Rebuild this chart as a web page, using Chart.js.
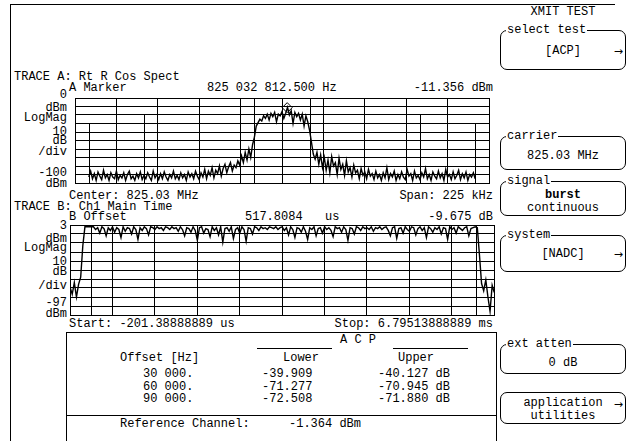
<!DOCTYPE html>
<html>
<head>
<meta charset="utf-8">
<script src="https://cdn.jsdelivr.net/npm/chart.js@4.4.1/dist/chart.umd.min.js"></script>
<style>
html, body { margin: 0; padding: 0; background: #fff; }
body { width: 636px; height: 441px; position: relative; overflow: hidden;
       font-family: "Liberation Mono", "DejaVu Sans Mono", monospace; font-size: 12px; color: #000; }
.t { position: absolute; white-space: pre; line-height: 12px; }
.hl { position: absolute; height: 0; border-top: 1px solid #000; }
.vl { position: absolute; width: 0; border-left: 1px solid #000; }
canvas { position: absolute; }
.key { position: absolute; left: 500px; width: 126px; border: 1px solid #000; border-radius: 7px; box-sizing: border-box; }
.key .lab { position: absolute; left: 5px; top: -7px; background: #fff; padding: 0 1px; line-height: 12px; white-space: pre; }
.key .c { position: absolute; left: 0; right: 0; text-align: center; line-height: 12px; white-space: pre; }
.key .ar { position: absolute; right: 2px; line-height: 12px; font-family: "DejaVu Sans", sans-serif; font-size: 11px; }
</style>
</head>
<body>
<!-- screen frame -->
<div class="vl" style="left:10px;top:4px;height:440px"></div>
<div class="hl" style="left:10px;top:4px;width:605px"></div>

<!-- trace A header -->
<div class="t" style="left:14px;top:71px">TRACE A: Rt R Cos Spect</div>
<div class="t" style="left:69px;top:82px">A Marker</div>
<div class="t" style="left:207px;top:82px">825 032 812.500 Hz</div>
<div class="t" style="right:143px;top:82px">-11.356 dBm</div>
<div class="t" style="right:569px;top:89px">0</div>
<div class="t" style="right:569px;top:102px">dBm</div>
<div class="t" style="right:569px;top:112px">LogMag</div>
<div class="t" style="right:569px;top:126px">10</div>
<div class="t" style="right:569px;top:135px">dB</div>
<div class="t" style="right:569px;top:146px">/div</div>
<div class="t" style="right:569px;top:167px">-100</div>
<div class="t" style="right:569px;top:178px">dBm</div>
<canvas id="traceA" width="426" height="97" style="left:69px;top:92px"></canvas>
<div class="t" style="left:69px;top:190px">Center: 825.03 MHz</div>
<div class="t" style="right:143px;top:190px">Span: 225 kHz</div>

<!-- trace B header -->
<div class="t" style="left:14px;top:201px">TRACE B: Ch1 Main Time</div>
<div class="t" style="left:69px;top:211px">B Offset</div>
<div class="t" style="left:245px;top:211px">517.8084</div>
<div class="t" style="left:325px;top:211px">us</div>
<div class="t" style="right:143px;top:211px">-9.675 dB</div>
<div class="t" style="right:569px;top:220px">3</div>
<div class="t" style="right:569px;top:233px">dBm</div>
<div class="t" style="right:569px;top:242px">LogMag</div>
<div class="t" style="right:569px;top:256px">10</div>
<div class="t" style="right:569px;top:266px">dB</div>
<div class="t" style="right:569px;top:280px">/div</div>
<div class="t" style="right:569px;top:297px">-97</div>
<div class="t" style="right:569px;top:308px">dBm</div>
<canvas id="traceB" width="426" height="92" style="left:69px;top:224px"></canvas>
<div class="t" style="left:69px;top:318px">Start: -201.38888889 us</div>
<div class="t" style="right:143px;top:318px">Stop: 6.79513888889 ms</div>

<!-- ACP table -->
<div style="position:absolute;left:66px;top:332px;width:429px;height:130px;border:1px solid #000"></div>
<div class="t" style="left:340px;top:334px">A C P</div>
<div class="hl" style="left:257px;top:348px;width:75px"></div>
<div class="hl" style="left:393px;top:348px;width:75px"></div>
<div class="t" style="left:120px;top:352px">Offset [Hz]</div>
<div class="t" style="left:283px;top:352px">Lower</div>
<div class="t" style="left:398px;top:352px">Upper</div>
<div id="acpRows"></div>
<div class="hl" style="left:66px;top:415px;width:430px"></div>
<div class="t" style="left:120px;top:418px">Reference Channel:</div>
<div class="t" style="left:289px;top:418px">-1.364 dBm</div>

<!-- softkeys -->
<div class="t" style="left:500px;width:126px;text-align:center;top:6px">XMIT TEST</div>
<div class="key" style="top:30px;height:40px"><span class="lab">select test</span>
  <div class="c" style="top:14px">[ACP]</div><span class="ar" style="top:15px">→</span></div>
<div class="key" style="top:136px;height:34px"><span class="lab">carrier</span>
  <div class="c" style="top:13px">825.03 MHz</div></div>
<div class="key" style="top:181px;height:35px"><span class="lab">signal</span>
  <div class="c" style="top:7px;font-weight:bold">burst</div>
  <div class="c" style="top:20px">continuous</div></div>
<div class="key" style="top:235px;height:37px"><span class="lab">system</span>
  <div class="c" style="top:12px">[NADC]</div><span class="ar" style="top:13px">→</span></div>
<div class="key" style="top:344px;height:30px"><span class="lab">ext atten</span>
  <div class="c" style="top:12px">0 dB</div></div>
<div class="key" style="top:392px;height:32px">
  <div class="c" style="top:4px">application</div>
  <div class="c" style="top:17px">utilities</div><span class="ar" style="top:6px">→</span></div>

<script>
// ACP results
const acpOffsets = ['30 000.', '60 000.', '90 000.'];
const acpLower = ['-39.909', '-71.277', '-72.508'];
const acpUpper = ['-40.127', '-70.945', '-71.880'];

// trace A: spectrum, dBm, one point per kHz from -105 kHz
const SPEC_START_KHZ = -105;
const SPEC_STEP_KHZ = 1;
const specA = [
  -93,-86,-95,-89,-97,-87,-92,-96,-85,-94,
  -90,-97,-88,-93,-95,-86,-96,-91,-94,-88,
  -97,-90,-86,-95,-92,-97,-89,-94,-87,-96,
  -91,-95,-88,-93,-97,-86,-94,-90,-96,-89,
  -95,-87,-93,-97,-90,-94,-86,-95,-91,-96,
  -88,-94,-90,-97,-87,-93,-89,-95,-86,-92,
  -96,-88,-93,-84,-95,-86,-91,-82,-94,-85,
  -89,-80,-92,-83,-78,-88,-81,-76,-86,-79,
  -82,-74,-79,-68,-76,-64,-73,-60,-70,-55,
  -46,-33,-29,-25,-27,-21,-24,-19,-26,-18,
  -22,-17,-28,-19,-21,-16,-24,-18,-11,-20,
  -15,-30,-17,-22,-18,-26,-19,-33,-21,-28,
  -38,-52,-66,-72,-64,-78,-67,-82,-70,-85,
  -73,-88,-69,-80,-76,-90,-71,-84,-78,-91,
  -74,-87,-82,-93,-79,-88,-85,-95,-83,-91,
  -87,-95,-84,-92,-89,-96,-86,-94,-90,-97,
  -88,-94,-82,-96,-89,-93,-86,-97,-90,-95,
  -87,-93,-96,-84,-92,-89,-97,-86,-94,-91,
  -96,-88,-93,-83,-95,-90,-97,-87,-92,-95,
  -86,-94,-89,-97,-84,-93,-90,-96,-87,-95,
  -91,-85,-96,-89,-94,-87,-97,-90,-93,-88,
  -95
];
const specSpan = [-112.5, 112.5];
const specLevel = [-100, 0];
// channel marker lines: [kHz, top of line in dBm]
const specMarkers = [[-105, -30], [-75, -20], [-15, 0], [15, 0], [75, -20], [105, -30]];
const specMarker = { x: 2.8125, y: -11.356 };

// trace B: burst vs time, dBm, one point per 35 us from -200 us
const TIME_START_US = -200;
const TIME_STEP_US = 35;
const burstB = [
  -66,-74,-61,-77,-63,-55,-20,1,1,1,
  1,1,-2,0,-6,1,-1,-9,0,-3,
  1,-5,0,-2,-11,1,-4,0,-1,-7,
  1,-2,-13,0,-3,1,-1,-8,1,0,
  -2,1,-1,0,-3,1,0,-2,1,-1,
  0,-4,1,-2,-9,0,-1,-5,1,-3,
  -14,0,1,-6,-1,-2,-10,1,-3,0,
  -8,1,-16,-1,0,-4,1,-12,-2,0,
  -6,1,-2,-15,0,-1,-7,1,0,-3,
  1,-1,0,-2,1,0,-1,1,-2,0,
  1,-3,0,-8,1,-2,-11,0,-1,-5,
  1,-4,-13,0,-2,1,-9,-1,0,-6,
  1,-2,0,-3,-10,1,-1,0,-5,1,
  -2,-14,0,-1,-7,1,0,-3,1,-1,
  0,-2,1,-4,0,-1,1,-2,0,1,
  -3,-9,0,1,-12,-1,0,-6,1,-2,
  -4,1,0,-8,-1,1,-3,0,-11,1,
  -1,-5,0,-2,1,-7,0,-1,-13,1,
  -2,0,-6,1,-1,-3,0,1,-9,-1,
  0,1,0,-30,-62,-70,-58,-77,-93,-64,
  -72
];
const timeSpan = [-201.38888889, 6795.13888889];
const timeLevel = [-97, 3];
const burstMarkers = [[140], [6493]];

// fill ACP rows
const rows = document.getElementById('acpRows');
acpOffsets.forEach((o, i) => {
  const top = 368 + i * 12.5;
  rows.insertAdjacentHTML('beforeend',
    `<div class="t" style="left:143px;top:${top}px">${o}</div>` +
    `<div class="t" style="left:262px;top:${top}px">${acpLower[i]}</div>` +
    `<div class="t" style="left:378px;top:${top}px">${acpUpper[i]} dB</div>`);
});

function evenTicks(min, max, n) {
  return function (scale) {
    scale.ticks = Array.from({ length: n + 1 }, (_, i) => ({ value: min + (max - min) * i / n }));
  };
}

const markerLines = {
  id: 'markerLines',
  beforeDatasetsDraw(chart, args, opts) {
    const { ctx, chartArea, scales } = chart;
    ctx.save();
    ctx.strokeStyle = '#000';
    ctx.lineWidth = 1;
    (opts.lines || []).forEach(([x, top]) => {
      const px = Math.round(scales.x.getPixelForValue(x)) + 0.5;
      const py = top === undefined ? chartArea.top : Math.round(scales.y.getPixelForValue(top));
      ctx.beginPath();
      ctx.moveTo(px, py);
      ctx.lineTo(px, chartArea.bottom);
      ctx.stroke();
    });
    ctx.restore();
  }
};

function axis(range) {
  return {
    type: 'linear', min: range[0], max: range[1],
    afterBuildTicks: evenTicks(range[0], range[1], 10),
    ticks: { display: false },
    grid: { color: '#000', lineWidth: 1, drawTicks: false },
    border: { color: '#000', width: 1 }
  };
}

function traceOptions(xr, yr, lines) {
  return {
    responsive: false, animation: false, events: [],
    layout: { padding: 1 },
    plugins: { legend: { display: false }, tooltip: { enabled: false }, markerLines: { lines: lines } },
    scales: { x: axis(xr), y: axis(yr) }
  };
}

const traceLine = { borderColor: '#000', borderWidth: 1.4, pointRadius: 0, tension: 0, fill: false };

new Chart(document.getElementById('traceA'), {
  type: 'line',
  data: {
    datasets: [
      Object.assign({ data: specA.map((v, i) => ({ x: SPEC_START_KHZ + i * SPEC_STEP_KHZ, y: v })) }, traceLine),
      { data: [specMarker], showLine: false, pointStyle: 'rectRot', pointRadius: 5,
        pointBorderColor: '#000', pointBackgroundColor: 'rgba(0,0,0,0)', pointBorderWidth: 1 }
    ]
  },
  options: traceOptions(specSpan, specLevel, specMarkers),
  plugins: [markerLines]
});

new Chart(document.getElementById('traceB'), {
  type: 'line',
  data: {
    datasets: [
      Object.assign({ data: burstB.map((v, i) => ({ x: TIME_START_US + i * TIME_STEP_US, y: v })) }, traceLine)
    ]
  },
  options: traceOptions(timeSpan, timeLevel, burstMarkers),
  plugins: [markerLines]
});
</script>
</body>
</html>
